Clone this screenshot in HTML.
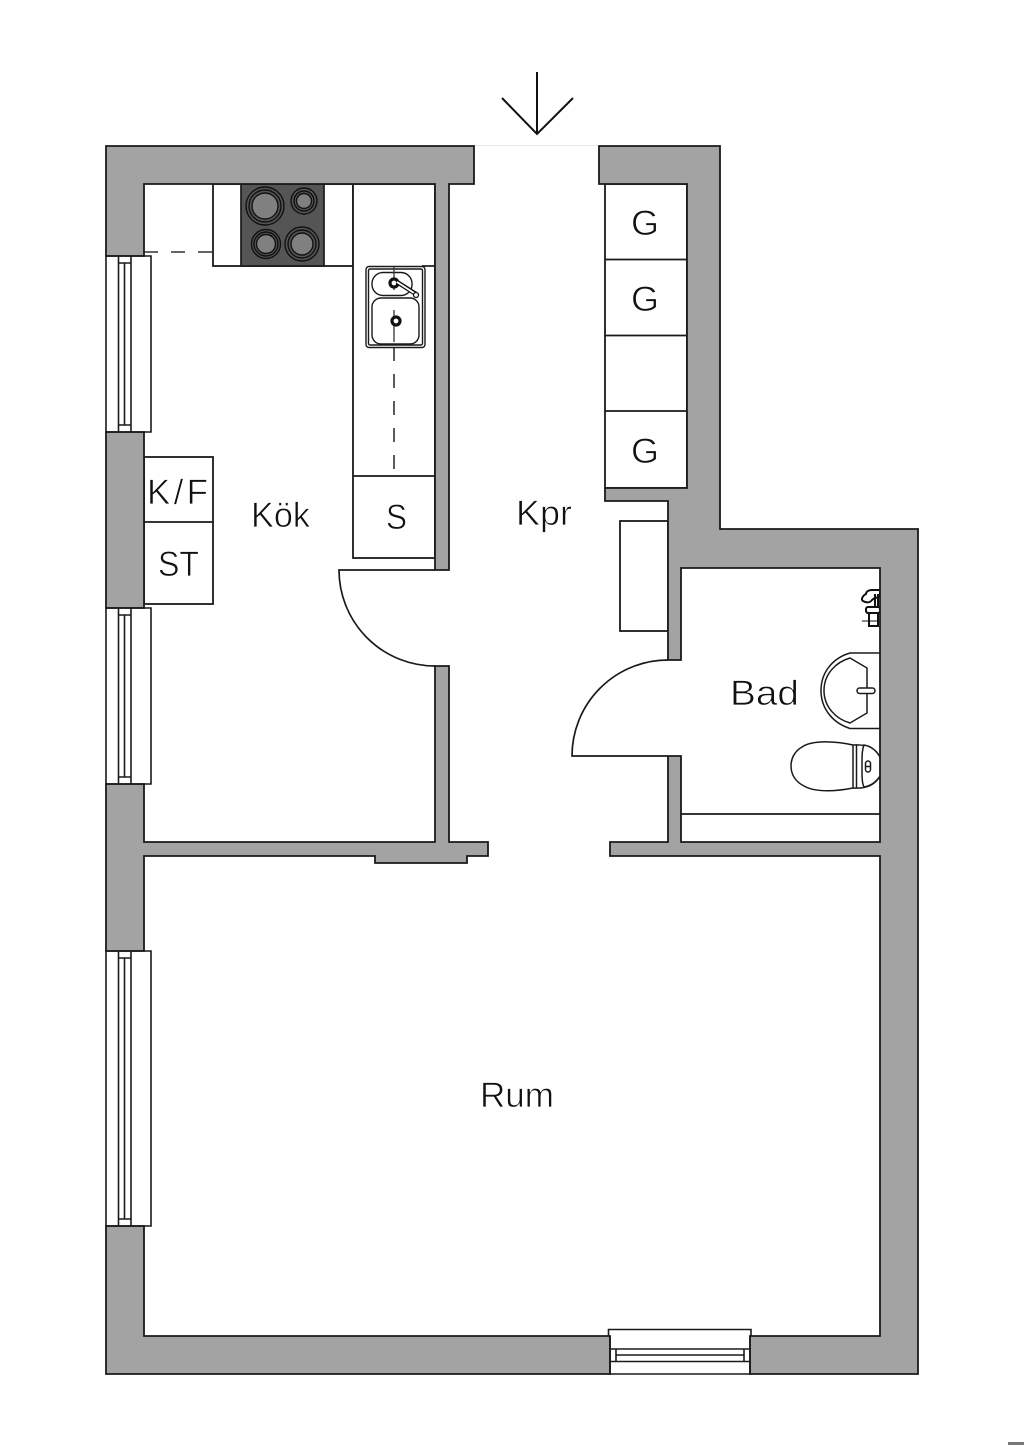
<!DOCTYPE html>
<html lang="sv">
<head>
<meta charset="utf-8">
<title>Planritning</title>
<style>
html,body{margin:0;padding:0;background:#fff;}
svg{display:block;}
text{font-family:"Liberation Sans",sans-serif;fill:#111;font-size:35px;stroke:#fff;stroke-width:0.7px;paint-order:normal;}
</style>
</head>
<body>
<svg width="1024" height="1448" viewBox="0 0 1024 1448" xmlns="http://www.w3.org/2000/svg">
<rect width="1024" height="1448" fill="#fff"/>
<rect x="1008" y="1442" width="16" height="3" fill="#777"/>

<!-- Entrance arrow -->
<g fill="none" stroke="#111" stroke-width="2">
<path d="M537 72V134"/>
<path d="M502 98L537 134L573 98"/>
</g>
<path d="M474 145.500H599" stroke="#e8e8e8" stroke-width="1" fill="none"/>

<!-- Fixtures -->
<g fill="#fff" stroke="#1a1a1a" stroke-width="1.800">
<rect x="213" y="184" width="140" height="82"/>
<rect x="353" y="184" width="82" height="374"/>
<rect x="605" y="184" width="82" height="304"/>
<rect x="144" y="457" width="69" height="147"/>
<rect x="620" y="521" width="48" height="110"/>
</g>
<g fill="none" stroke="#1a1a1a" stroke-width="1.700">
<path d="M605 259.500H687M605 335.500H687M605 411H687"/>
<path d="M144 522H213"/>
<path d="M353 476H435"/>
<path d="M681 814H880"/>
<path d="M422 266H435"/>
</g>
<path d="M144 252H213" fill="none" stroke="#333" stroke-width="1.600" stroke-dasharray="14 13"/>
<path d="M394 266V476" fill="none" stroke="#333" stroke-width="1.600" stroke-dasharray="14 13"/>

<!-- Stove -->
<rect x="241" y="184" width="83" height="82" fill="#555" stroke="#1a1a1a" stroke-width="1.700"/>
<g stroke="#111" stroke-width="1.400">
<circle cx="265" cy="206" r="19" fill="#555"/><circle cx="265" cy="206" r="16" fill="#555"/><circle cx="265" cy="206" r="13" fill="#808080"/>
<circle cx="304" cy="201" r="13" fill="#555"/><circle cx="304" cy="201" r="10" fill="#555"/><circle cx="304" cy="201" r="7.500" fill="#808080"/>
<circle cx="266" cy="244" r="14.500" fill="#555"/><circle cx="266" cy="244" r="12" fill="#555"/><circle cx="266" cy="244" r="9.500" fill="#808080"/>
<circle cx="302" cy="244" r="17" fill="#555"/><circle cx="302" cy="244" r="14" fill="#555"/><circle cx="302" cy="244" r="11" fill="#808080"/>
</g>

<!-- Sink -->
<g fill="none" stroke="#1a1a1a" stroke-width="1.400">
<rect x="366" y="266.500" width="59" height="81" rx="3" fill="#fff"/>
<rect x="368.500" y="269" width="54" height="76" rx="1.500"/>
<rect x="372" y="272.500" width="40" height="23" rx="11"/>
<rect x="372" y="298" width="47" height="46" rx="9"/>
</g>
<path d="M394 266V290M394 310V342" fill="none" stroke="#333" stroke-width="1.300"/>
<circle cx="394" cy="283" r="4" fill="#fff" stroke="#111" stroke-width="3.200"/>
<circle cx="396" cy="321" r="4" fill="#fff" stroke="#111" stroke-width="3.200"/>
<path d="M397 282L416 294" stroke="#111" stroke-width="4.500" fill="none"/>
<path d="M397 282L414 293" stroke="#fff" stroke-width="1.800" fill="none"/>
<circle cx="416" cy="295" r="2.500" fill="#fff" stroke="#111" stroke-width="1.300"/>

<!-- Bathroom sink -->
<g fill="#fff" stroke="#1a1a1a" stroke-width="1.500">
<path d="M880 653H850C833 658 821 672 821 690.500C821 709 833 723 850 728.500H880"/>
<path d="M850 658L867 668V713L850 723C836 719 824 707 824 690.500C824 674 836 662 850 658Z"/>
<rect x="857" y="688" width="18" height="5.500" rx="2.700"/>
</g>

<!-- Toilet -->
<g fill="#fff" stroke="#1a1a1a" stroke-width="1.500">
<path d="M880 757C875 748 866 744 853 745C835 741 812 740 802 747C795 751 791 758 791 766C791 775 796 782 804 786C816 793 838 791 853 788C866 789 875 785 880 776Z"/>
<path d="M853 745V788M856.500 745V788"/>
<path d="M880 757C876 750 870 746 864 745C862 750 862 755 862 766C862 778 862 783 864 787C870 786 876 782 880 776"/>
<rect x="865.500" y="761" width="5" height="11" rx="2.500"/>
<path d="M865.500 766.500H870.500"/>
</g>

<!-- Tap -->
<g fill="#fff" stroke="#111" stroke-width="2">
<path d="M880 590H872C868 590 866 592 866 594C862 596 861 600 863 601C866 603 870 603 872 600C874 598 878 597 880 597Z"/>
<rect x="866" y="607" width="14" height="6" rx="2"/>
<rect x="869" y="613" width="9" height="13"/>
<path d="M862 621H880" stroke-width="1"/>
<path d="M875 594V607M878 594V607" stroke-width="2"/>
</g>

<!-- Walls -->
<g fill="#a3a3a3" stroke="#1a1a1a" stroke-width="1.800" stroke-linejoin="miter">
<path d="M106 146H474V184H449V570H435V184H144V256H106Z"/>
<path d="M106 432H144V608H106Z"/>
<path d="M106 784H144V842H435V666H449V842H488V856H467V863H375V856H144V951H106Z"/>
<path d="M106 1226H144V1336H610V1374H106Z"/>
<path d="M599 146H720V529H918V1374H750V1336H880V856H610V842H668V756H681V842H880V568H681V660H668V501H605V488H687V184H599Z"/>
</g>

<!-- Windows left -->
<g fill="none" stroke="#1a1a1a" stroke-width="1.600">
<path d="M106 256H151V432H106ZM118.500 256V432M124.500 263V425M131 256V432M118.500 263H131M118.500 425H131"/>
<path d="M106 608H151V784H106ZM118.500 608V784M124.500 615V777M131 608V784M118.500 615H131M118.500 777H131"/>
<path d="M106 951H151V1226H106ZM118.500 951V1226M124.500 958V1219M131 951V1226M118.500 958H131M118.500 1219H131"/>
</g>

<!-- Window bottom -->
<g fill="none" stroke="#1a1a1a" stroke-width="1.600">
<path d="M610 1336H608.500V1329.500H751V1336H750"/>
<path d="M610 1336V1374H750V1336"/>
<path d="M610 1349H750M616 1355H744M610 1361.500H750M616 1349V1361.500M744 1349V1361.500"/>
</g>

<!-- Doors -->
<g fill="none" stroke="#1a1a1a" stroke-width="1.700">
<path d="M435 570H339A96 96 0 0 0 435 666"/>
<path d="M668 756H572A96 96 0 0 1 668 660"/>
</g>

<!-- Labels -->
<text x="251" y="527" textLength="59" lengthAdjust="spacingAndGlyphs">Kök</text>
<text x="516" y="525" textLength="56" lengthAdjust="spacingAndGlyphs">Kpr</text>
<text x="730" y="705" textLength="69" lengthAdjust="spacingAndGlyphs">Bad</text>
<text x="480" y="1107" textLength="74" lengthAdjust="spacingAndGlyphs">Rum</text>
<text x="386" y="529" textLength="21" lengthAdjust="spacingAndGlyphs">S</text>
<text x="631" y="235" textLength="28" lengthAdjust="spacingAndGlyphs">G</text>
<text x="631" y="311" textLength="28" lengthAdjust="spacingAndGlyphs">G</text>
<text x="631" y="463" textLength="28" lengthAdjust="spacingAndGlyphs">G</text>
<text x="147" y="504" textLength="61" lengthAdjust="spacing">K/F</text>
<text x="158" y="576" textLength="41" lengthAdjust="spacingAndGlyphs">ST</text>
</svg>
</body>
</html>
